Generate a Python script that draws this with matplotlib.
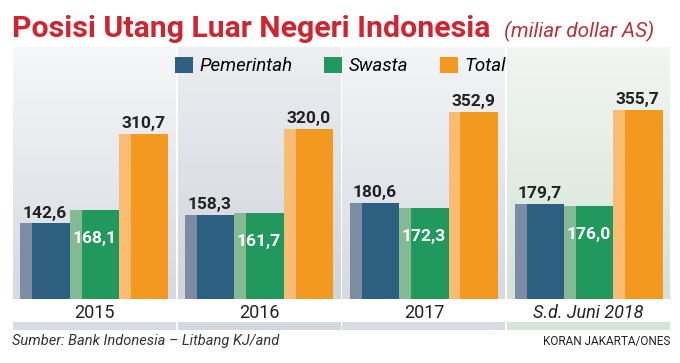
import matplotlib.pyplot as plt
import numpy as np
from matplotlib.colors import LinearSegmentedColormap
from matplotlib.patches import Patch

plt.rcParams['font.family'] = ['Roboto', 'DejaVu Sans']

years = ['2015', '2016', '2017', 'S.d. Juni 2018']
pemerintah = [142.6, 158.3, 180.6, 179.7]
swasta = [168.1, 161.7, 172.3, 176.0]
total = [310.7, 320.0, 352.9, 355.7]

def fmt(v):
    return f'{v:.1f}'.replace('.', ',')

dark = ['#2d5f80', '#21995e', '#f4991f']
light = ['#7b8ca3', '#83b993', '#f8bd73']
panel_top = ['#f6f7f8', '#eceef1', '#f3f4f6', '#f2f5f1']
panel_bot = ['#d5d9e0', '#d0d4db', '#d6dae0', '#d3e3d6']
strip = ['#d8dce2', '#d3d7de', '#d8dce2', '#d4e4d8']

fig = plt.figure(figsize=(6.8, 3.63), dpi=100)
ax = fig.add_axes([12 / 680, 33 / 363, 659 / 680, 283 / 363])
ymax = 474.6
ymin = -58.4

x = np.arange(len(years))
w = 0.299
sw = 0.072

# panel backgrounds
for i in range(len(years)):
    cmap = LinearSegmentedColormap.from_list('g', [panel_bot[i], panel_top[i]])
    grad = np.linspace(1, 0, 100).reshape(-1, 1)
    ax.imshow(grad, extent=[i - 0.494, i + 0.494, 0, ymax], aspect='auto',
              cmap=cmap, zorder=0, origin='upper')
    ax.bar(i, -43.3 - ymin, bottom=ymin, width=0.988, color=strip[i], zorder=0)
    ax.bar(i, 43.3, bottom=-43.3, width=0.988, color='white', zorder=0)

for k, series in enumerate([pemerintah, swasta, total]):
    xs = x + (k - 1) * w
    ax.bar(xs, series, width=w, color=dark[k], zorder=2)
    ax.bar(xs - w / 2 + sw / 2, series, width=sw, color=light[k], zorder=3)

for i in range(len(years)):
    ax.text(x[i] - w, pemerintah[i] + 5, fmt(pemerintah[i]), ha='center', va='bottom',
            fontsize=12.5, fontweight='bold', color='#222222', zorder=4)
    ax.text(x[i], swasta[i] - 54, fmt(swasta[i]), ha='center', va='center',
            fontsize=12.5, fontweight='bold', color='white', zorder=4)
    ax.text(x[i] + w, total[i] + 5, fmt(total[i]), ha='center', va='bottom',
            fontsize=12.5, fontweight='bold', color='#222222', zorder=4)
    ax.text(x[i], -26.4, years[i], ha='center', va='center', fontsize=13,
            color='#222222', style='italic' if i == 3 else 'normal')

ax.set_xlim(-0.5, 3.5)
ax.set_ylim(ymin, ymax)
ax.axis('off')

fig.text(12 / 680, 1 - 37 / 363, 'Posisi Utang Luar Negeri Indonesia', ha='left', va='baseline',
         fontsize=21.8, fontweight='bold', color='#d0252f')
fig.text(504 / 680, 1 - 37 / 363, '(miliar dollar AS)', ha='left', va='baseline',
         fontsize=15, style='italic', color='#b8323a')

handles = [Patch(facecolor=c) for c in dark]
fig.legend(handles, ['Pemerintah', 'Swasta', 'Total'], loc='center',
           bbox_to_anchor=(340.5 / 680, 1 - 66 / 363), ncol=3, frameon=False,
           prop={'style': 'italic', 'size': 13.5}, handlelength=0.95, handleheight=0.95,
           handletextpad=0.35, columnspacing=1.7, borderpad=0)

fig.text(12 / 680, 1 - 341 / 363, 'Sumber: Bank Indonesia \u2013 Litbang KJ/and', ha='left',
         va='center', fontsize=10.5, style='italic', color='#333333')
fig.text(670 / 680, 1 - 341 / 363, 'KORAN JAKARTA/ONES', ha='right', va='center',
         fontsize=8.5, color='#222222')

fig.savefig('out.png', dpi=100)
